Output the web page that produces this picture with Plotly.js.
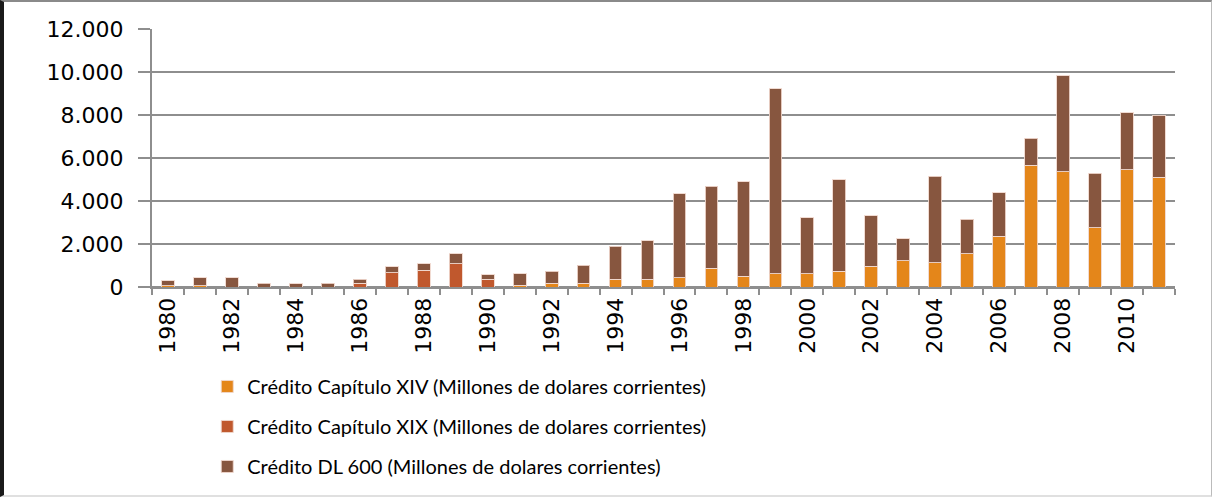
<!DOCTYPE html>
<html>
<head>
<meta charset="utf-8">
<script src="https://cdn.plot.ly/plotly-3.0.1.min.js"></script>
<style>
  html, body { margin: 0; padding: 0; background: #fff; }
  #wrap { position: relative; width: 1212px; height: 497px; }
  #chart { width: 1212px; height: 497px; }
  #frame { position: absolute; left: 0; top: 0; width: 1212px; height: 497px; box-sizing: border-box;
           border-left: 4px solid #1a1a1a; border-top: 2px solid #8a8a8a; border-right: 1px solid #bbb; border-bottom: 2px solid #e0e0e0; pointer-events: none; }
</style>
</head>
<body>
<div id="wrap"><div id="chart"></div><div id="frame"></div></div>
<script>
const years = ['1980','1981','1982','1983','1984','1985','1986','1987','1988','1989','1990','1991','1992','1993','1994','1995','1996','1997','1998','1999','2000','2001','2002','2003','2004','2005','2006','2007','2008','2009','2010','2011'];
const creditoXIV = [70,70,0,0,0,0,0,0,0,0,0,60,170,170,360,360,420,880,510,620,620,730,970,1230,1130,1540,2360,5660,5370,2760,5460,5110];
const creditoXIX = [0,0,0,0,0,0,185,660,770,1080,360,20,0,0,0,0,0,0,0,0,0,0,0,0,0,0,0,0,0,0,0,0];
const creditoDL600 = [210,350,420,185,140,185,185,280,310,460,210,540,560,850,1540,1790,3920,3810,4380,8590,2590,4270,2350,1010,4020,1620,2020,1270,4460,2530,2640,2880];
const seriesNames = ['Crédito Capítulo XIV (Millones de dolares corrientes)','Crédito Capítulo XIX (Millones de dolares corrientes)','Crédito DL 600 (Millones de dolares corrientes)'];
const tickLabels = years.map((y, i) => (i % 2 === 0 ? y : ''));

const colors = ['#E4861A', '#C0582D', '#87563F'];
const edge = {color: 'rgba(240,215,205,0.9)', width: 1};
const data = [creditoXIV, creditoXIX, creditoDL600].map((vals, i) => ({
  type: 'bar', x: years, y: vals, name: seriesNames[i], legendgroup: 'g' + i,
  marker: {color: colors[i], line: edge}, hoverinfo: 'x+y+name'
}));

const grid = '#8e8e8e';
const layout = {
  width: 1212, height: 497,
  margin: {l: 152, r: 37, t: 29, b: 210, autoexpand: false},
  paper_bgcolor: '#fff', plot_bgcolor: '#fff',
  barmode: 'stack', bargap: 0.6,
  separators: ',.',
  font: {family: 'DejaVu Sans', color: '#000'},
  xaxis: {
    type: 'category', tickmode: 'array', tickvals: years, ticktext: tickLabels,
    tickangle: -90, tickson: 'boundaries', ticks: 'outside', ticklen: 6, tickwidth: 2, tickcolor: grid,
    showline: true, linecolor: grid, linewidth: 2, showgrid: false,
    tickfont: {family: 'DejaVu Sans', size: 22, color: '#000'}
  },
  yaxis: {
    range: [0, 12000], dtick: 2000, tickformat: ',d',
    showgrid: true, gridcolor: grid, gridwidth: 2,
    zeroline: true, zerolinecolor: grid, zerolinewidth: 2,
    showline: true, linecolor: grid, linewidth: 2,
    ticks: 'outside', ticklen: 12, tickwidth: 2, tickcolor: grid,
    ticklabelstandoff: 10,
    tickfont: {family: 'DejaVu Sans', size: 22, color: '#000'}
  },
  showlegend: true,
  legend: {
    x: 0.054, xanchor: 'left', y: -0.31, yanchor: 'top',
    traceorder: 'grouped', tracegroupgap: 11,
    font: {family: 'Lato', size: 20, color: '#000'},
    bgcolor: 'rgba(0,0,0,0)', borderwidth: 0
  }
};

Plotly.newPlot('chart', data, layout, {displayModeBar: false, staticPlot: true});
</script>
</body>
</html>
